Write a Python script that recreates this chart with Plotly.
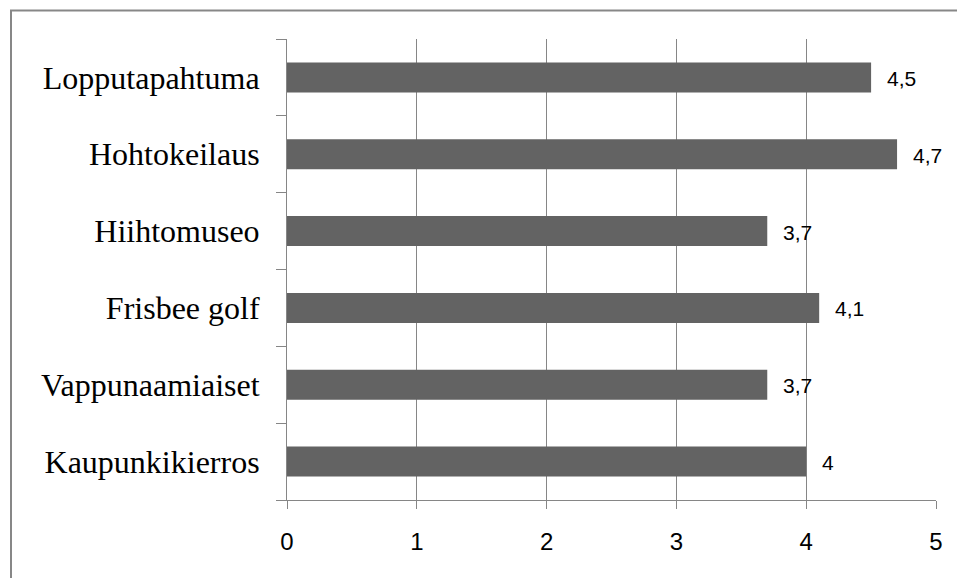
import plotly.graph_objects as go

categories = ["Kaupunkikierros", "Vappunaamiaiset", "Frisbee golf", "Hiihtomuseo", "Hohtokeilaus", "Lopputapahtuma"]
values = [4.0, 3.7, 4.1, 3.7, 4.7, 4.5]
x_ticks = [0, 1, 2, 3, 4, 5]

def fmt(v):
    return ("%g" % v).replace(".", ",")

fig = go.Figure()
fig.add_trace(go.Bar(
    y=categories, x=values, orientation="h",
    marker=dict(color="#636363", line=dict(width=0)),
    width=0.39,
    hoverinfo="skip",
))

for c, v in zip(categories, values):
    fig.add_annotation(x=v, y=c, xref="x", yref="y", text=fmt(v), showarrow=False,
                       xanchor="left", yanchor="middle", xshift=14, yshift=-1,
                       font=dict(family="Liberation Sans", size=21, color="#000"))

fig.update_layout(
    width=957, height=570,
    margin=dict(l=279, r=29, t=31, b=78),
    paper_bgcolor="white", plot_bgcolor="white",
    showlegend=False,
    xaxis=dict(range=[0, 5], tickvals=x_ticks, ticktext=[str(t) for t in x_ticks],
               showgrid=True, gridcolor="#868686", gridwidth=1,
               zeroline=False, showline=True, linecolor="#868686", linewidth=1,
               ticks="outside", ticklen=8, tickcolor="#868686", tickwidth=1,
               ticklabelstandoff=12,
               tickfont=dict(family="Liberation Sans", size=24, color="#000"),
               fixedrange=True),
    yaxis=dict(categoryorder="array", categoryarray=categories,
               showgrid=False, zeroline=False,
               showline=True, linecolor="#868686", linewidth=1,
               ticks="outside", ticklen=10, tickcolor="#868686", tickwidth=1,
               tickson="boundaries", ticklabelstandoff=20,
               tickfont=dict(family="Liberation Serif", size=32, color="#000"),
               fixedrange=True),
)
# outer border of the chart frame (extends past the right/bottom edges of the view)
fig.add_shape(type="rect", xref="x domain", yref="y domain",
              x0=-276/649, x1=(975-287)/649, y0=-(590-500)/461, y1=(500-10.5)/461,
              line=dict(color="#878787", width=2), fillcolor="rgba(0,0,0,0)", layer="below")

fig.write_html("out.html")
